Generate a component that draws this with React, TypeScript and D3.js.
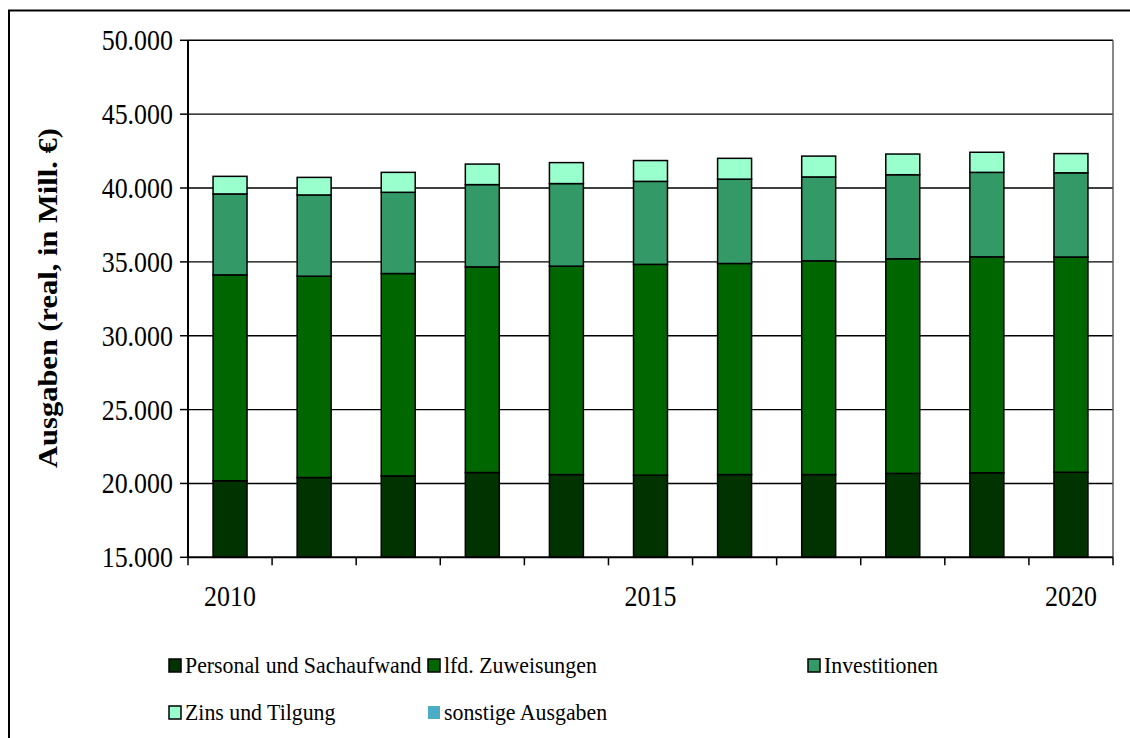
import React from "react";
import * as d3 from "d3";

const years = ["2010","2011","2012","2013","2014","2015","2016","2017","2018","2019","2020"];
const personal = [20180, 20400, 20510, 20740, 20600, 20560, 20600, 20600, 20680, 20720, 20760];
const zuweisungen = [13940, 13630, 13700, 13920, 14110, 14270, 14290, 14470, 14530, 14620, 14570];
const investitionen = [5480, 5500, 5500, 5570, 5590, 5620, 5710, 5680, 5690, 5720, 5700];
const zins = [1190, 1190, 1350, 1390, 1420, 1410, 1410, 1410, 1400, 1360, 1300];
const sonstige = [0, 0, 0, 0, 0, 0, 0, 0, 0, 0, 0];
const seriesNames = ["Personal und Sachaufwand", "lfd. Zuweisungen", "Investitionen", "Zins und Tilgung", "sonstige Ausgaben"];
const seriesColors = ["#003300", "#006600", "#339966", "#99FFCC", "#4BACC6"];
const yTicks = [15000, 20000, 25000, 30000, 35000, 40000, 45000, 50000];
const xLabels = ["2010", "2015", "2020"];
const yTitle = "Ausgaben (real, in Mill. €)";

const FONT = "Liberation Serif";
const SX = 0.91;

export default function App() {
  const W = 1130, H = 738;
  const left = 188, right = 1113, top = 40.3, bottom = 557.3;
  const x = d3.scaleBand<string>().domain(years).range([left, right]).padding(0);
  const y = d3.scaleLinear().domain([15000, 50000]).range([bottom, top]).clamp(true);
  const fmt = (v: number) => d3.format(",")(v).replace(/,/g, ".");

  const rows = years.map((yr, i) => ({
    year: yr,
    s0: personal[i], s1: zuweisungen[i], s2: investitionen[i], s3: zins[i], s4: sonstige[i],
  }));
  const keys = ["s0", "s1", "s2", "s3", "s4"];
  const stacked = d3.stack<any>().keys(keys)(rows);
  const bw = x.bandwidth() * 0.404;

  const legend = [
    { i: 0, x: 169, y: 659 },
    { i: 1, x: 428, y: 659 },
    { i: 2, x: 808, y: 659 },
    { i: 3, x: 169, y: 706 },
    { i: 4, x: 428, y: 706 },
  ];

  return (
    <svg width={W} height={H} style={{ position: "absolute", left: 0, top: 0, background: "#fff" }}>
      <rect x={0} y={0} width={W} height={H} fill="#fff" />
      <rect x={9} y={10.5} width={W + 20} height={H + 20} fill="none" stroke="#000" strokeWidth={2} />
      {yTicks.filter(t => t > 15000).map(t => (
        <line key={t} x1={left} x2={right} y1={y(t)} y2={y(t)} stroke="#000" strokeWidth={1.4} />
      ))}
      <line x1={right} x2={right} y1={top} y2={bottom} stroke="#555" strokeWidth={1.4} />
      {stacked.map((layer, li) => (
        <g key={li}>
          {layer.map((d, j) => {
            const h = y(d[0]) - y(d[1]);
            if (h <= 0) return null;
            const cx = (x(years[j]) as number) + x.bandwidth() / 2;
            return (
              <rect key={j} x={cx - bw / 2} y={y(d[1])} width={bw} height={h}
                fill={seriesColors[li]} stroke="#000" strokeWidth={1.5} />
            );
          })}
        </g>
      ))}
      <line x1={left} x2={left} y1={top} y2={bottom} stroke="#000" strokeWidth={2} />
      {yTicks.map(t => (
        <g key={t}>
          <line x1={left - 8} x2={left} y1={y(t)} y2={y(t)} stroke="#000" strokeWidth={1.5} />
          <text transform={`translate(173, ${y(t)}) scale(${SX}, 1)`} dy="0.35em" textAnchor="end" fontSize={28.5} fontFamily={FONT} fill="#000">{fmt(t)}</text>
        </g>
      ))}
      <line x1={left} x2={right} y1={bottom} y2={bottom} stroke="#000" strokeWidth={2} />
      {d3.range(years.length + 1).map(k => {
        const xx = left + k * x.step();
        return <line key={k} x1={xx} x2={xx} y1={bottom} y2={bottom + 8} stroke="#000" strokeWidth={1.5} />;
      })}
      {xLabels.map(l => (
        <text key={l} transform={`translate(${(x(l) as number) + x.bandwidth() / 2}, 606) scale(${SX}, 1)`} textAnchor="middle" fontSize={28.5} fontFamily={FONT} fill="#000">{l}</text>
      ))}
      <text transform={`translate(57, 298) rotate(-90) scale(1, ${SX})`} textAnchor="middle" fontSize={30.5} fontWeight="bold" fontFamily={FONT} fill="#000">{yTitle}</text>
      {legend.map(l => (
        <g key={l.i}>
          <rect x={l.x} y={l.y} width={12} height={13} fill={seriesColors[l.i]}
            stroke={l.i === 4 ? "none" : "#000"} strokeWidth={1.5} />
          <text transform={`translate(${l.x + 16}, ${l.y + 14}) scale(${SX}, 1)`} fontSize={24} fontFamily={FONT} fill="#000">{seriesNames[l.i]}</text>
        </g>
      ))}
    </svg>
  );
}
